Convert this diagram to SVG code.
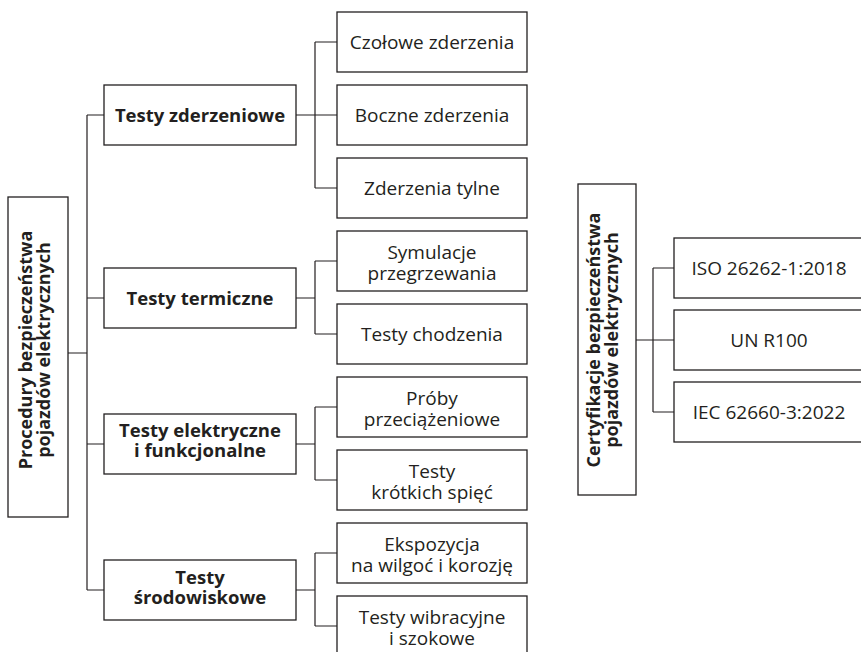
<svg xmlns="http://www.w3.org/2000/svg" width="861" height="652" viewBox="0 0 861 652">
<style>
.box{fill:#fff;stroke:#231f20;stroke-width:1.3}
.ln{fill:none;stroke:#231f20;stroke-width:1.2}
text{font-family:"Open Sans","Noto Sans","Liberation Sans",sans-serif;font-size:19px;fill:#231f20;text-anchor:middle}
.b{font-weight:bold;font-size:18.5px}
.v{font-weight:bold;font-size:18px}
</style>
<rect width="861" height="652" fill="#fff"/>
<g id="connectors">
<path class="ln" d="M68,353H87M87,115V590M87,115H104M87,298H104M87,444H104M87,590H104"/>
<path class="ln" d="M296,115H315M315,42V188M315,42H337M315,115H337M315,188H337"/>
<path class="ln" d="M296,298H315M315,261V334M315,261H337M315,334H337"/>
<path class="ln" d="M296,444H315M315,407V480M315,407H337M315,480H337"/>
<path class="ln" d="M296,590H315M315,553V626M315,553H337M315,626H337"/>
<path class="ln" d="M636,340H653M653,268V412M653,268H674M653,340H674M653,412H674"/>
</g>
<g id="root"><rect class="box" x="8" y="197" width="60" height="320"/>
<text class="v" transform="translate(0,350) rotate(-90)"><tspan x="0" y="32">Procedury bezpieczeństwa</tspan><tspan x="0" y="50">pojazdów elektrycznych</tspan></text></g>
<g id="n-zderzeniowe"><rect class="box" x="104" y="85" width="192" height="60"/><text class="b" x="200" y="121.5">Testy zderzeniowe</text></g>
<g id="n-termiczne"><rect class="box" x="104" y="268" width="192" height="60"/><text class="b" x="200" y="304.5">Testy termiczne</text></g>
<g id="n-elektryczne"><rect class="box" x="104" y="414" width="192" height="60"/><text class="b" x="200"><tspan x="200" y="437">Testy elektryczne</tspan><tspan x="200" y="457">i funkcjonalne</tspan></text></g>
<g id="n-srodowiskowe"><rect class="box" x="104" y="560" width="192" height="60"/><text class="b" x="200"><tspan x="200" y="583.5">Testy</tspan><tspan x="200" y="603.5">środowiskowe</tspan></text></g>
<g id="c-czolowe"><rect class="box" x="337" y="12" width="190" height="60"/><text x="432" y="49">Czołowe zderzenia</text></g>
<g id="c-boczne"><rect class="box" x="337" y="85" width="190" height="60"/><text x="432" y="122">Boczne zderzenia</text></g>
<g id="c-tylne"><rect class="box" x="337" y="158" width="190" height="60"/><text x="432" y="195">Zderzenia tylne</text></g>
<g id="c-symulacje"><rect class="box" x="337" y="231" width="190" height="60"/><text><tspan x="432" y="259">Symulacje</tspan><tspan x="432" y="280">przegrzewania</tspan></text></g>
<g id="c-chodzenia"><rect class="box" x="337" y="304" width="190" height="60"/><text x="432" y="341">Testy chodzenia</text></g>
<g id="c-proby"><rect class="box" x="337" y="377" width="190" height="60"/><text><tspan x="432" y="405">Próby</tspan><tspan x="432" y="426">przeciążeniowe</tspan></text></g>
<g id="c-krotkich"><rect class="box" x="337" y="450" width="190" height="60"/><text><tspan x="432" y="478">Testy</tspan><tspan x="432" y="499">krótkich spięć</tspan></text></g>
<g id="c-ekspozycja"><rect class="box" x="337" y="523" width="190" height="60"/><text><tspan x="432" y="551">Ekspozycja</tspan><tspan x="432" y="572">na wilgoć i korozję</tspan></text></g>
<g id="c-wibracyjne"><rect class="box" x="337" y="596" width="190" height="60"/><text><tspan x="432" y="624">Testy wibracyjne</tspan><tspan x="432" y="645">i szokowe</tspan></text></g>
<g id="cert"><rect class="box" x="578" y="184" width="58" height="311"/>
<text class="v" transform="translate(0,340) rotate(-90)"><tspan x="0" y="600">Certyfikacje bezpieczeństwa</tspan><tspan x="0" y="618">pojazdów elektrycznych</tspan></text></g>
<g id="s-iso"><rect class="box" x="674" y="238" width="192" height="60"/><text x="769" y="275">ISO 26262-1:2018</text></g>
<g id="s-un"><rect class="box" x="674" y="310" width="192" height="60"/><text x="769" y="347">UN R100</text></g>
<g id="s-iec"><rect class="box" x="674" y="382" width="192" height="60"/><text x="769" y="419">IEC 62660-3:2022</text></g>
</svg>
